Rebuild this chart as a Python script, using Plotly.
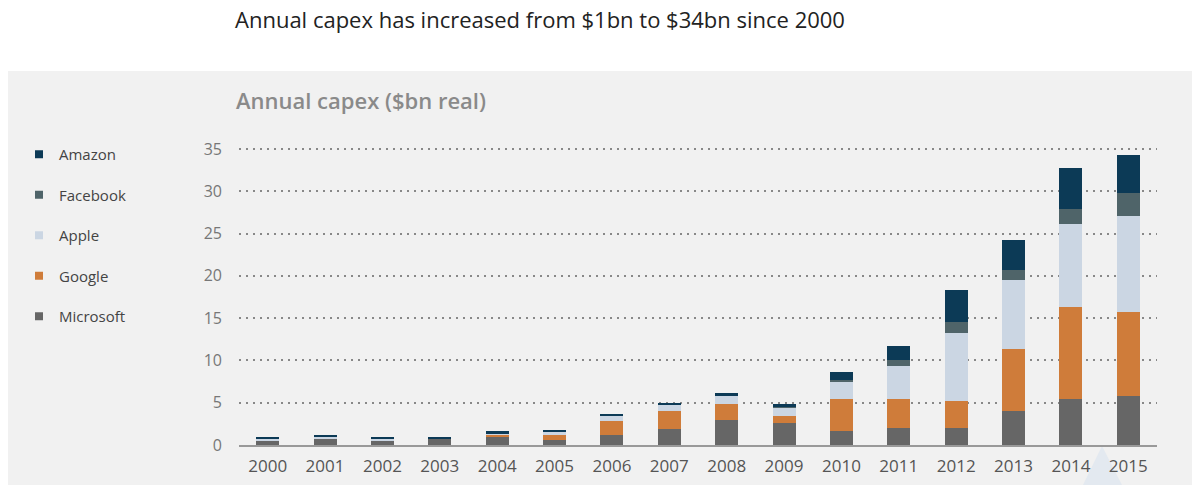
import plotly.graph_objects as go

years = ["2000", "2001", "2002", "2003", "2004", "2005", "2006", "2007",
         "2008", "2009", "2010", "2011", "2012", "2013", "2014", "2015"]

microsoft = [0.48, 0.68, 0.50, 0.72, 0.92, 0.55, 1.23, 1.85, 2.90, 2.60, 1.62, 2.00, 2.00, 4.00, 5.40, 5.75]
google    = [0.00, 0.00, 0.00, 0.00, 0.24, 0.75, 1.66, 2.15, 1.90, 0.85, 3.83, 3.45, 3.25, 7.40, 10.90, 10.00]
apple     = [0.20, 0.24, 0.20, 0.00, 0.24, 0.20, 0.55, 0.75, 1.00, 1.00, 2.10, 3.95, 8.00, 8.10, 9.80, 11.30]
facebook  = [0.00, 0.00, 0.00, 0.00, 0.00, 0.00, 0.05, 0.05, 0.05, 0.05, 0.10, 0.65, 1.25, 1.25, 1.80, 2.70]
amazon    = [0.32, 0.30, 0.30, 0.28, 0.20, 0.30, 0.20, 0.20, 0.35, 0.40, 1.00, 1.70, 3.80, 3.50, 4.90, 4.50]

series_names = ["Microsoft", "Google", "Apple", "Facebook", "Amazon"]
series_values = [microsoft, google, apple, facebook, amazon]
series_colors = ["#666666", "#cf7c3a", "#cbd6e3", "#4f6469", "#0c3a56"]

y_ticks = [0, 5, 10, 15, 20, 25, 30, 35]

title_text = "Annual capex has increased from $1bn to $34bn since 2000"
subtitle_text = "Annual capex ($bn real)"

FONT = "Open Sans, Lato, sans-serif"

fig = go.Figure()

for name, vals, col in zip(series_names, series_values, series_colors):
    fig.add_trace(go.Bar(
        x=years, y=vals, name=name, marker_color=col,
        marker_line_width=0, width=0.4, showlegend=False,
    ))

# legend entries (small square symbols), Amazon on top
for name, col in reversed(list(zip(series_names, series_colors))):
    fig.add_trace(go.Scatter(
        x=[None], y=[None], mode="markers", name=name,
        marker=dict(symbol="square", size=8, color=col),
        legendgroup=name, showlegend=True,
    ))

W, H = 1192, 485
L, R, T, B = 239, 35, 147, 40
pw = W - L - R
ph = H - T - B
Y_MAX = 35.24


def px_x(x):
    return (x - L) / pw


def px_y(y):
    return (H - B - y) / ph


fig.update_layout(
    width=W, height=H,
    margin=dict(l=L, r=R, t=T, b=B, autoexpand=False),
    paper_bgcolor="white",
    plot_bgcolor="rgba(0,0,0,0)",
    barmode="stack",
    bargap=0.6,
    font=dict(family=FONT, color="#555555", size=14),
    title=dict(
        text=title_text, x=235 / W, xanchor="left", xref="container",
        y=1 - 20 / H, yanchor="middle", yref="container",
        font=dict(family=FONT, size=22, color="#222222"),
    ),
    legend=dict(
        x=px_x(19), xanchor="left", y=px_y(138), yanchor="top",
        traceorder="grouped", tracegroupgap=18,
        bgcolor="rgba(0,0,0,0)",
        font=dict(family=FONT, size=15, color="#444444"),
        itemwidth=30,
    ),
    xaxis=dict(
        type="category", showgrid=False, ticks="",
        showline=True, linecolor="#999999", linewidth=2,
        tickfont=dict(family=FONT, size=17, color="#555555"),
        ticklabelstandoff=5, automargin=False,
        range=[-0.5, 15.5], fixedrange=True,
    ),
    yaxis=dict(
        range=[0, Y_MAX], tickvals=y_ticks, showgrid=True,
        gridcolor="#888888", griddash="2px,5px", gridwidth=1.5,
        zeroline=False, ticks="", ticklabelstandoff=16, automargin=False,
        tickfont=dict(family=FONT, size=16, color="#777777"),
    ),
    shapes=[
        dict(type="rect", xref="paper", yref="paper",
             x0=px_x(8), x1=px_x(1192), y0=px_y(71), y1=px_y(485),
             fillcolor="#f1f1f1", line_width=0, layer="below"),
        dict(type="path", xref="paper", yref="paper",
             path=f"M {px_x(1083)},{px_y(485)} L {px_x(1102)},{px_y(446)} L {px_x(1122)},{px_y(485)} Z",
             fillcolor="#e3e9f0", line_width=0, layer="below"),
    ],
    annotations=[
        dict(text=subtitle_text, xref="paper", yref="paper",
             x=px_x(234), y=px_y(100), xanchor="left", yanchor="middle",
             showarrow=False,
             font=dict(family=FONT, size=22, color="#8a8a8a", weight=600)),
    ],
)

fig.write_html("out.html")
